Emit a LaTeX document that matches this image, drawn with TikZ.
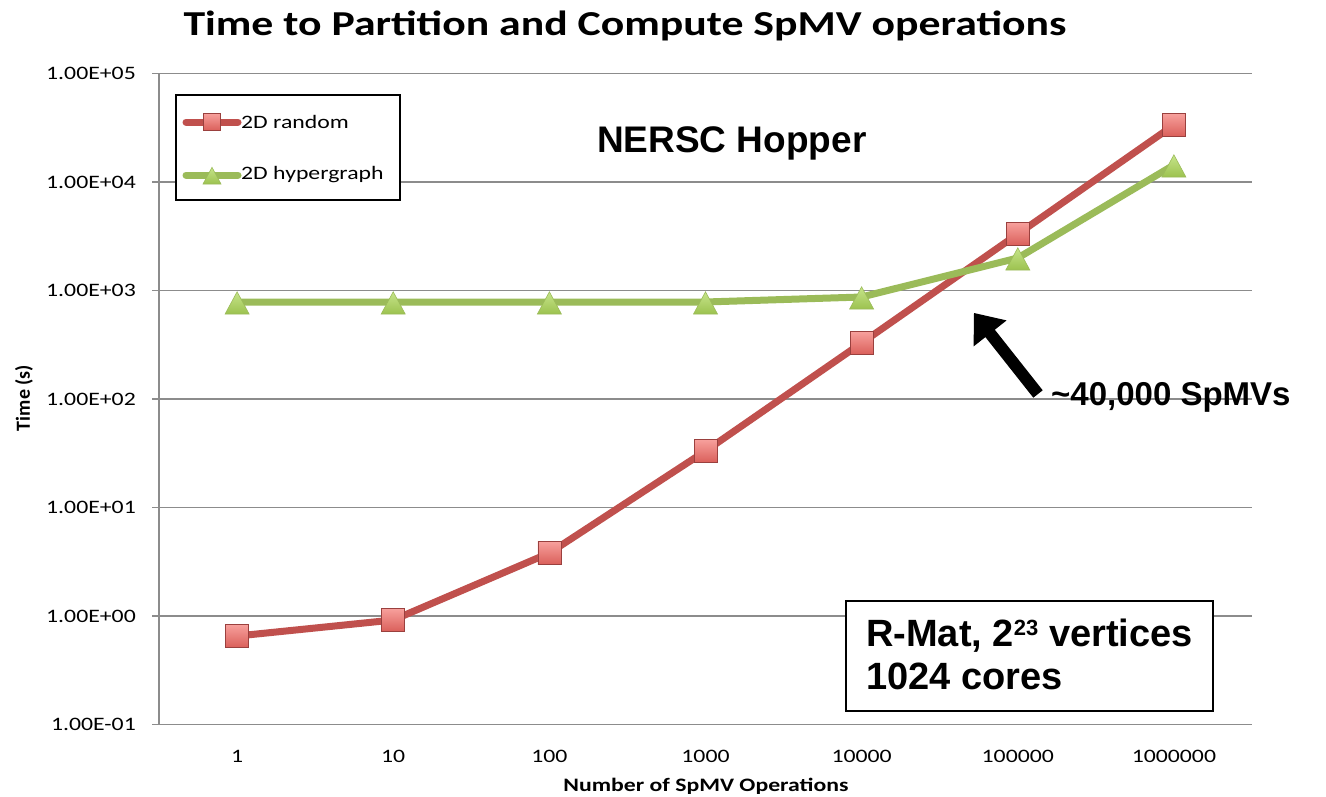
\documentclass[tikz,border=0pt]{standalone}
\usepackage{fontspec}
\setmainfont{Liberation Sans}
\newfontfamily\calib[FakeStretch=1.25]{Carlito}
\newfontfamily\calibplain{Carlito}
\usetikzlibrary{calc}
\definecolor{redline}{HTML}{C0504D}
\definecolor{redtop}{HTML}{F7A09C}
\definecolor{redbot}{HTML}{DA5F5A}
\definecolor{greenline}{HTML}{9BBB59}
\definecolor{greentop}{HTML}{C6E48A}
\definecolor{greenbot}{HTML}{9CC24F}
\definecolor{gridgray}{HTML}{8C8C8C}
\tikzset{
  gridline/.style={draw=gridgray, line width=1.6pt},
  ticklab/.style={font=\calib\fontsize{19}{19}\selectfont, inner sep=0pt},
  redseries/.style={draw=redline, line width=7pt, line join=round, line cap=round},
  greenseries/.style={draw=greenline, line width=7pt, line join=round, line cap=round},
  redmark/.style={draw=redline!80!black, line width=0.8pt, top color=redtop, bottom color=redbot},
  greenmark/.style={draw=greenline, line width=0.6pt, top color=greentop, bottom color=greenbot},
  bigbold/.style={font=\bfseries\fontsize{33}{43}\selectfont, inner sep=0pt, anchor=base west},
  boxbold/.style={font=\bfseries\fontsize{38}{42}\selectfont, inner sep=0pt, anchor=base west},
}
\newcommand{\redsq}[3]{\path[redmark] ($(#1)+(-#3,-#3)$) rectangle ($(#1)+(#3,#3)$);}
\newcommand{\greentri}[3]{\path[greenmark] ($(#1)+(0,-0.85*#3)$) -- ($(#1)+(#3,#3)$) -- ($(#1)+(-#3,#3)$) -- cycle;}
\begin{document}
\begin{tikzpicture}[x=1pt,y=-1pt]
\useasboundingbox (0,0) rectangle (1326,796);
\fill[white] (0,0) rectangle (1326,796);
% title
\node[font=\calib\bfseries\fontsize{35}{35}\selectfont, inner sep=0pt] (title) at (625,26) {Time to Partition and Compute SpMV operations};
% gridlines
\foreach \yy/\lab [count=\i] in {73.5/1.00E+05,182/1.00E+04,290.5/1.00E+03,399/1.00E+02,507.5/1.00E+01,616/1.00E+00,724.5/1.00E-01}{
  \draw[gridline] (152,\yy) -- (1252,\yy);
  \node[ticklab, anchor=east] (yl\i) at (136,\yy) {\lab};
}
\draw[gridline] (159,73.5) -- (159,724.5);
% x tick labels
\foreach \xx/\lab [count=\i] in {237.1/1,393.2/10,549.4/100,705.5/1000,861.6/10000,1017.8/100000,1173.9/1000000}{
  \coordinate (c\i) at (\xx,0);
  \node[ticklab] (xl\i) at (\xx,756) {\lab};
}
\node[font=\calib\bfseries\fontsize{19}{19}\selectfont, inner sep=0pt] (xtitle) at (706,786) {Number of SpMV Operations};
\node[font=\calibplain\bfseries\fontsize{20}{20}\selectfont, inner sep=0pt, rotate=90] (ytitle) at (24,398) {Time (s)};
% red series
\foreach \i/\yy in {1/636,2/620,3/553,4/451,5/343,6/234,7/125}{
  \coordinate (r\i) at ($(c\i)+(0,\yy)$);
}
\draw[redseries] (r1) -- (r2) -- (r3) -- (r4) -- (r5) -- (r6) -- (r7);
\foreach \i in {1,...,7}{ \redsq{r\i}{}{11.5} }
% green series
\foreach \i/\yy in {1/302,2/302,3/302,4/302,5/297,6/258,7/165}{
  \coordinate (g\i) at ($(c\i)+(0,\yy)$);
}
\draw[greenseries] (g1) -- (g2) -- (g3) -- (g4) -- (g5) -- (g6) -- (g7);
\foreach \i in {1,...,7}{ \greentri{g\i}{}{12} }
% legend
\node[draw=black, line width=1.5pt, fill=white, minimum width=224pt, minimum height=105pt, inner sep=0pt] (legend) at (288,147.5) {};
\coordinate (lr) at (212,122);
\coordinate (lg) at (212,175);
\draw[redseries] ($(lr)+(-26,0)$) -- ($(lr)+(26,0)$);
\redsq{lr}{}{8.5}
\draw[greenseries] ($(lg)+(-26,0)$) -- ($(lg)+(26,0)$);
\greentri{lg}{}{9}
\node[ticklab, anchor=west] (legr) at (241,122) {2D random};
\node[ticklab, anchor=west] (legg) at (241,175) {2D hypergraph};
% annotations
\node[font=\bfseries\fontsize{37}{37}\selectfont, inner sep=0pt, anchor=base west] (nersc) at (597,152) {NERSC Hopper};
\coordinate (atail) at (1038,394);
\coordinate (atip) at (974,313);
\fill[black] (atip) -- (1006.6,320.4) -- (994.8,329.7) -- (1042.7,390.3) -- (1033.3,397.7) -- (985.4,337.1) -- (973.6,346.4) -- cycle;
\node[bigbold] (sp) at (1051,405) {\textasciitilde 40,000 SpMVs};
\draw[black, line width=1.5pt, fill=white] (846,601) rectangle (1213,711);
\node[boxbold] (rmat1) at (866,646) {R-Mat, 2\raisebox{11pt}{\fontsize{22}{22}\selectfont 23} vertices};
\node[boxbold] (rmat2) at (866,689) {1024 cores};
\end{tikzpicture}
\end{document}
